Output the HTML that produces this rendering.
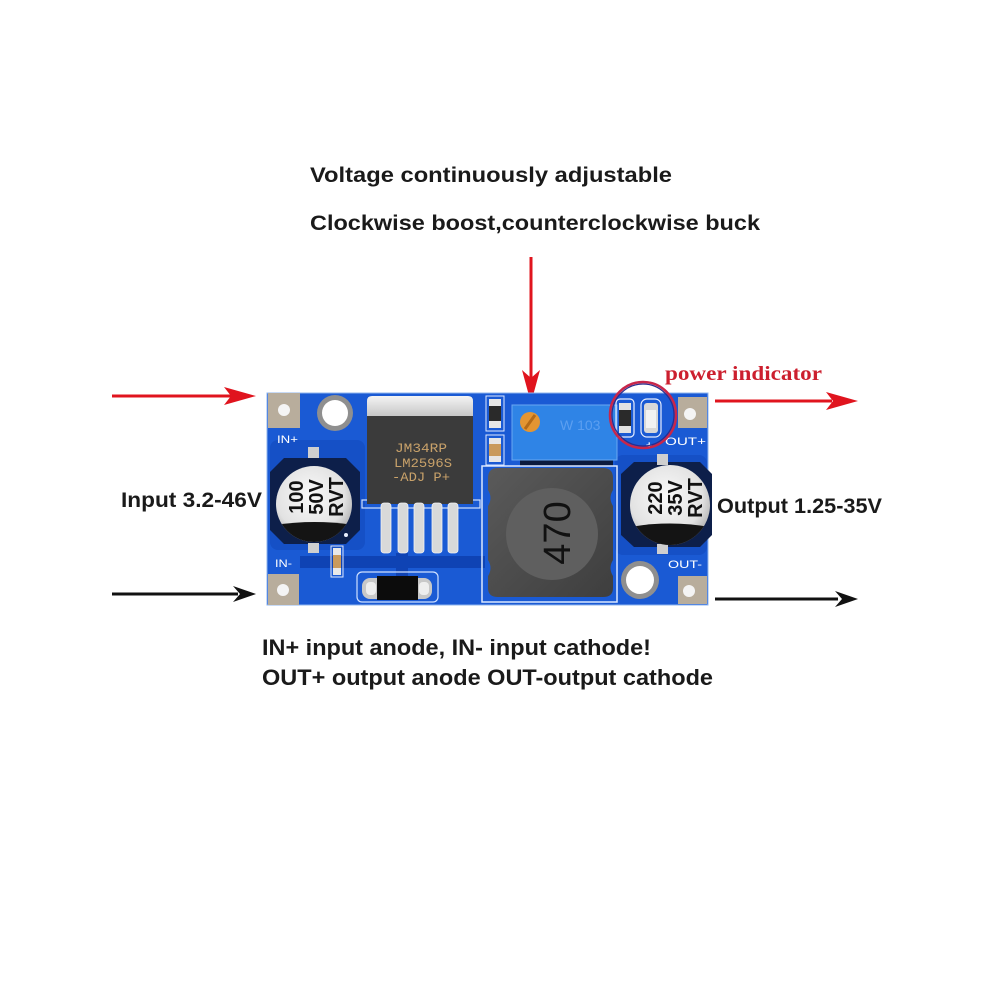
<!DOCTYPE html>
<html>
<head>
<meta charset="utf-8">
<style>
  html, body { margin: 0; padding: 0; background: #ffffff; }
  svg { display: block; }
  .t { font-family: "Liberation Sans", Arial, sans-serif; font-weight: bold; fill: #1a1a1a; }
</style>
</head>
<body>
<svg width="1000" height="1000" viewBox="0 0 1000 1000" xmlns="http://www.w3.org/2000/svg">
  <defs>
    <radialGradient id="silver" cx="45%" cy="40%" r="65%">
      <stop offset="0%" stop-color="#fafafa"/>
      <stop offset="70%" stop-color="#e2e2e2"/>
      <stop offset="100%" stop-color="#a9a9a9"/>
    </radialGradient>
    <linearGradient id="ind" x1="0" y1="0" x2="1" y2="1">
      <stop offset="0%" stop-color="#5a5a5a"/>
      <stop offset="100%" stop-color="#3e3e3e"/>
    </linearGradient>
    <linearGradient id="tab" x1="0" y1="0" x2="0" y2="1">
      <stop offset="0%" stop-color="#f4f4f4"/>
      <stop offset="100%" stop-color="#c2c2c2"/>
    </linearGradient>
    <clipPath id="capIn"><circle cx="314" cy="504" r="38"/></clipPath>
    <clipPath id="capOut"><circle cx="670" cy="505" r="40"/></clipPath>
  </defs>

  <rect width="1000" height="1000" fill="#ffffff"/>

  <!-- Top texts -->
  <text class="t" x="310" y="182" font-size="21" textLength="362" lengthAdjust="spacingAndGlyphs">Voltage continuously adjustable</text>
  <text class="t" x="310" y="230" font-size="21" textLength="450" lengthAdjust="spacingAndGlyphs">Clockwise boost,counterclockwise buck</text>

  <!-- vertical red arrow -->
  <line x1="531" y1="257" x2="531" y2="385" stroke="#e0141e" stroke-width="3"/>
  <polygon points="531,403 522,370 531,378 540,370" fill="#e0141e"/>

  <!-- power indicator -->
  <text x="665" y="380" font-family="'Liberation Serif', 'Times New Roman', serif" font-weight="bold" font-size="20" fill="#cc1f2e" textLength="157" lengthAdjust="spacingAndGlyphs">power indicator</text>

  <!-- Arrows -->
  <line x1="112" y1="396" x2="232" y2="396" stroke="#e0141e" stroke-width="3"/>
  <polygon points="256,396 224,387 231,396 224,405" fill="#e0141e"/>
  <line x1="112" y1="594" x2="238" y2="594" stroke="#111" stroke-width="3"/>
  <polygon points="256,594 233,586 240,594 233,602" fill="#111"/>
  <line x1="715" y1="401" x2="832" y2="401" stroke="#e0141e" stroke-width="3"/>
  <polygon points="858,401 826,392 833,401 826,410" fill="#e0141e"/>
  <line x1="715" y1="599" x2="838" y2="599" stroke="#111" stroke-width="3"/>
  <polygon points="858,599 835,591 842,599 835,607" fill="#111"/>

  <!-- Side labels -->
  <text class="t" x="121" y="507" font-size="21" textLength="141" lengthAdjust="spacingAndGlyphs">Input 3.2-46V</text>
  <text class="t" x="717" y="513" font-size="21" textLength="165" lengthAdjust="spacingAndGlyphs">Output 1.25-35V</text>

  <!-- Bottom texts -->
  <text class="t" x="262" y="655" font-size="22" textLength="389" lengthAdjust="spacingAndGlyphs">IN+ input anode, IN- input cathode!</text>
  <text class="t" x="262" y="685" font-size="22" textLength="451" lengthAdjust="spacingAndGlyphs">OUT+ output anode OUT-output cathode</text>

  <!-- ===== BOARD ===== -->
  <rect x="267" y="393" width="441" height="212" fill="#1a5ad4"/>
  <rect x="267" y="393" width="441" height="212" fill="none" stroke="#8fb4ee" stroke-width="1"/>
  <!-- darker copper regions -->
  <rect x="300" y="556" width="185" height="12" fill="#0f43b4"/>
  <rect x="396" y="553" width="12" height="24" fill="#0f43b4"/>
  <rect x="270" y="440" width="95" height="110" rx="8" fill="#1550c6"/>
  <rect x="615" y="455" width="92" height="100" rx="8" fill="#1550c6"/>

  <!-- Corner pads -->
  <rect x="268" y="393" width="32" height="35" fill="#b8ad9c"/>
  <circle cx="284" cy="410" r="6" fill="#f4f4f4"/>
  <rect x="268" y="574" width="31" height="31" fill="#b8ad9c"/>
  <circle cx="283" cy="590" r="6" fill="#f4f4f4"/>
  <rect x="678" y="397" width="29" height="31" fill="#b8ad9c"/>
  <circle cx="690" cy="414" r="6" fill="#f4f4f4"/>
  <rect x="678" y="576" width="29" height="28" fill="#b8ad9c"/>
  <circle cx="689" cy="591" r="6" fill="#f4f4f4"/>

  <!-- Mounting holes -->
  <circle cx="335" cy="413" r="18" fill="#8f8f8f"/>
  <circle cx="335" cy="413" r="13" fill="#ffffff"/>
  <circle cx="640" cy="580" r="19" fill="#8f8f8f"/>
  <circle cx="640" cy="580" r="14" fill="#ffffff"/>

  <!-- Board labels -->
  <g font-family="'Liberation Sans', Arial, sans-serif" font-size="11" fill="#ffffff">
    <text x="277" y="443" textLength="21" lengthAdjust="spacingAndGlyphs">IN+</text>
    <text x="275" y="567" textLength="17" lengthAdjust="spacingAndGlyphs">IN-</text>
    <text x="665" y="445" textLength="41" lengthAdjust="spacingAndGlyphs">OUT+</text>
    <text x="668" y="568" textLength="34" lengthAdjust="spacingAndGlyphs">OUT-</text>
  </g>

  <!-- Input capacitor -->
  <polygon points="284,458 346,458 360,472 360,530 346,544 284,544 270,530 270,472" fill="#0d1f4a"/>
  <rect x="308" y="447" width="11" height="11" fill="#cfcfcf"/>
  <rect x="308" y="543" width="11" height="10" fill="#cfcfcf"/>
  <circle cx="314" cy="504" r="38" fill="url(#silver)"/>
  <g clip-path="url(#capIn)">
    <path d="M270 526 Q314 518 360 526 L360 560 L270 560 Z" fill="#141414"/>
  </g>
  <g font-family="'Liberation Sans', Arial, sans-serif" font-size="20" font-weight="bold" fill="#111" text-anchor="middle">
    <text transform="translate(303,497) rotate(-90)">100</text>
    <text transform="translate(323,497) rotate(-90)">50V</text>
    <text transform="translate(343,497) rotate(-90)">RVT</text>
  </g>

  <!-- small SMD near input cap -->
  <rect x="331" y="546" width="12" height="31" fill="none" stroke="#dfe8ff" stroke-width="1"/>
  <rect x="333" y="548" width="8" height="27" fill="#e8e8e8"/>
  <rect x="333" y="555" width="8" height="13" fill="#c99a5c"/>

  <!-- LM2596 IC -->
  <rect x="362" y="500" width="118" height="8" fill="none" stroke="#cfe0ff" stroke-width="1.2"/>
  <path d="M367 401 Q367 396 372 396 L468 396 Q473 396 473 401 L473 418 L367 418 Z" fill="url(#tab)"/>
  <rect x="367" y="416" width="106" height="88" fill="#3b3b3b"/>
  <g font-family="'Liberation Mono', monospace" font-size="13" fill="#c9a26a" text-anchor="middle">
    <text x="421" y="452" textLength="52" lengthAdjust="spacingAndGlyphs">JM34RP</text>
    <text x="423" y="467" textLength="58" lengthAdjust="spacingAndGlyphs">LM2596S</text>
    <text x="421" y="481" textLength="58" lengthAdjust="spacingAndGlyphs">-ADJ  P+</text>
  </g>
  <!-- pins -->
  <g fill="#d9d9d9" stroke="#f2f2f2" stroke-width="0.8">
    <rect x="381" y="503" width="10" height="50" rx="3"/>
    <rect x="398" y="503" width="10" height="50" rx="3"/>
    <rect x="414" y="503" width="10" height="50" rx="3"/>
    <rect x="432" y="503" width="10" height="50" rx="3"/>
    <rect x="448" y="503" width="10" height="50" rx="3"/>
  </g>
  <circle cx="346" cy="535" r="2" fill="#e8f0ff"/>

  <!-- Diode -->
  <rect x="357" y="572" width="81" height="30" rx="5" fill="none" stroke="#cfe0ff" stroke-width="1.2"/>
  <rect x="362" y="578" width="70" height="21" rx="8" fill="#c8c8c8"/>
  <rect x="366" y="582" width="10" height="13" rx="4" fill="#eeeeee"/>
  <rect x="419" y="582" width="10" height="13" rx="4" fill="#eeeeee"/>
  <rect x="377" y="576" width="41" height="24" fill="#0c0c0c"/>

  <!-- top small SMD parts -->
  <rect x="486" y="396" width="18" height="35" fill="none" stroke="#dfe8ff" stroke-width="1"/>
  <rect x="489" y="399" width="12" height="29" fill="#e6e6e6"/>
  <rect x="489" y="406" width="12" height="15" fill="#2a2a2a"/>
  <rect x="486" y="435" width="18" height="30" fill="none" stroke="#dfe8ff" stroke-width="1"/>
  <rect x="489" y="438" width="12" height="24" fill="#e6e6e6"/>
  <rect x="489" y="444" width="12" height="12" fill="#c99a5c"/>

  <!-- Potentiometer -->
  <rect x="520" y="455" width="93" height="11" fill="#0b1a3e"/>
  <rect x="512" y="405" width="105" height="55" fill="#2f84e6"/>
  <rect x="512" y="405" width="105" height="55" fill="none" stroke="#6aa8f2" stroke-width="1"/>
  <text x="560" y="430" font-family="'Liberation Sans', Arial, sans-serif" font-size="14" fill="#5c9ff0">W 103</text>
  <circle cx="530" cy="422" r="10" fill="#e39532"/>
  <line x1="525" y1="429" x2="535" y2="415" stroke="#b36a18" stroke-width="3"/>

  <!-- Inductor -->
  <rect x="482" y="466" width="135" height="136" fill="none" stroke="#dbe7ff" stroke-width="1.5"/>
  <path d="M498 468 L603 468 Q613 468 613 478 L613 490 Q608 498 613 506 L613 560 Q608 568 613 576 L613 588 Q613 597 603 597 L498 597 Q488 597 488 588 L488 576 Q493 568 488 560 L488 506 Q493 498 488 490 L488 478 Q488 468 498 468 Z" fill="url(#ind)"/>
  <circle cx="552" cy="534" r="46" fill="#5f5f5f"/>
  <text transform="translate(570,533) rotate(-90)" font-family="'Liberation Sans', Arial, sans-serif" font-size="38" fill="#111" text-anchor="middle">470</text>

  <!-- Output capacitor -->
  <polygon points="634,462 700,462 712,474 712,535 700,547 634,547 621,535 621,474" fill="#0d1f4a"/>
  <rect x="657" y="454" width="11" height="11" fill="#cfcfcf"/>
  <rect x="657" y="544" width="11" height="10" fill="#cfcfcf"/>
  <circle cx="670" cy="505" r="40" fill="url(#silver)"/>
  <g clip-path="url(#capOut)">
    <path d="M625 528 Q670 519 715 528 L715 560 L625 560 Z" fill="#141414"/>
  </g>
  <g font-family="'Liberation Sans', Arial, sans-serif" font-size="20" font-weight="bold" fill="#111" text-anchor="middle">
    <text transform="translate(662,498) rotate(-90)">220</text>
    <text transform="translate(682,498) rotate(-90)">35V</text>
    <text transform="translate(702,498) rotate(-90)">RVT</text>
  </g>

  <!-- Power indicator parts -->
  <rect x="616" y="399" width="18" height="38" rx="4" fill="none" stroke="#e8eeff" stroke-width="1.2"/>
  <rect x="619" y="403" width="12" height="30" fill="#e2e2e2"/>
  <rect x="619" y="410" width="12" height="16" fill="#2a2a2a"/>
  <rect x="641" y="399" width="20" height="38" rx="6" fill="none" stroke="#e8eeff" stroke-width="1.2"/>
  <rect x="644" y="403" width="14" height="30" rx="3" fill="#d8d8d8"/>
  <rect x="646" y="410" width="10" height="18" fill="#f2f2f2"/>
  <text x="646" y="449" font-family="'Liberation Sans', Arial, sans-serif" font-size="11" font-weight="bold" fill="#ffffff">+</text>
  <circle cx="643" cy="415" r="33" fill="none" stroke="#c8264a" stroke-width="2.5"/>
  <circle cx="643" cy="415" r="31" fill="none" stroke="#2a2c8c" stroke-width="1.2"/>
</svg>
</body>
</html>
